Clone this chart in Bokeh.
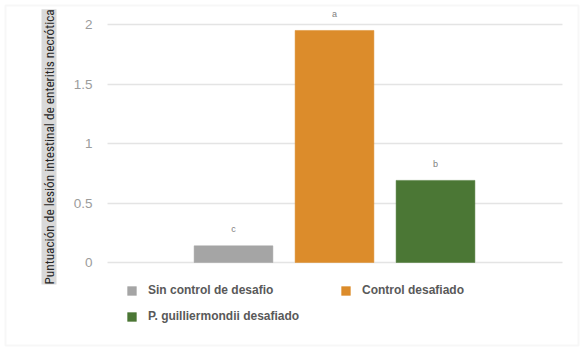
import math
from bokeh.plotting import figure
from bokeh.models import (ColumnDataSource, Range1d, Legend, LegendItem, Label,
                          BoxAnnotation, FixedTicker, LabelSet, LinearAxis)
from bokeh.core.properties import value
from bokeh.embed import file_html
from bokeh.resources import INLINE

# ---- data ----
series = ["Sin control de desafio", "Control desafiado", "P. guilliermondii desafiado"]
scores = [0.14, 1.95, 0.69]
letters = ["c", "a", "b"]
colors = ["#a5a5a5", "#dc8c2b", "#4b7735"]
y_ticks = [0, 0.5, 1, 1.5, 2]
y_label = "Puntuación de lesión intestinal de enteritis necrótica"

NARROW = "Liberation Sans Narrow, Arial Narrow, Roboto Condensed, Liberation Sans, sans-serif"
SANS = "Liberation Sans, Arial, sans-serif"

xpos = [0, 1, 2]
src = ColumnDataSource(dict(x=xpos, top=scores, letter=letters,
                            ly=[s + 0.14 for s in scores]))

W, H = 585, 352
X0, XS = 233.0, 101.0      # px of first bar centre, px per category step
Y0, YS = 262.0, 119.0      # px of value 0, px per unit
plot_left = (107 - X0) / XS
plot_right = (562 - X0) / XS

p = figure(width=W, height=H, output_backend="svg", toolbar_location=None,
           x_range=Range1d(-X0 / XS, (W - X0) / XS),
           y_range=Range1d((Y0 - H) / YS, Y0 / YS),
           x_axis_location=None, y_axis_location=None,
           min_border=0, min_border_left=0, min_border_right=0,
           min_border_top=0, min_border_bottom=0)
p.outline_line_color = None
p.background_fill_color = "white"
p.border_fill_color = "white"

# outer border
p.add_layout(BoxAnnotation(left=5, right=578, top=H - 5, bottom=H - 345,
                           left_units="screen", right_units="screen",
                           top_units="screen", bottom_units="screen",
                           fill_color=None, line_color="#e3e3e3", line_width=2,
                           level="underlay"))

rs = []
for i in range(3):
    r = p.vbar(x=[xpos[i]], top=[scores[i]], width=0.78, bottom=0,
               fill_color=colors[i], line_color=colors[i], line_width=0.5)
    rs.append(r)

p.add_layout(LabelSet(x="x", y="ly", text="letter", source=src, text_align="center",
                      text_baseline="middle", text_font_size="9px", text_color="#808080",
                      text_font=value(SANS)))

ax = LinearAxis(ticker=FixedTicker(ticks=y_ticks), fixed_location=plot_left)
ax.axis_line_color = None
ax.major_tick_line_color = None
ax.minor_tick_line_color = None
ax.major_label_text_color = "#9c9c9c"
ax.major_label_text_font_size = "13.5px"
ax.major_label_text_font = SANS
ax.major_label_standoff = 9
p.add_layout(ax, "left")

p.ygrid.ticker = FixedTicker(ticks=y_ticks)
p.ygrid.cross_bounds = (plot_left, plot_right)
p.ygrid.grid_line_color = "#e4e4e4"
p.ygrid.grid_line_width = 1.5
p.xgrid.visible = False

# y-axis title with gray highlight
p.add_layout(Label(x=56, y=H - 284, x_units="screen", y_units="screen", text=y_label,
                   angle=math.pi / 2, text_font_size="13.3px", text_color="#262626",
                   text_font=NARROW, background_fill_color="#d9d9d9",
                   text_baseline="bottom", text_align="left"))

legend = Legend(items=[LegendItem(label=series[i], renderers=[rs[i]]) for i in range(3)],
                orientation="horizontal", ncols=2, location=(126, H - 327),
                label_text_font_size="12px", label_text_font=SANS,
                label_text_font_style="bold", label_text_color="#595959",
                glyph_width=11, glyph_height=11, label_width=188, label_height=22,
                spacing=4, padding=0, margin=0, label_standoff=11,
                border_line_color=None, background_fill_alpha=0)
p.add_layout(legend)

open("out.html", "w").write(file_html(p, INLINE))
